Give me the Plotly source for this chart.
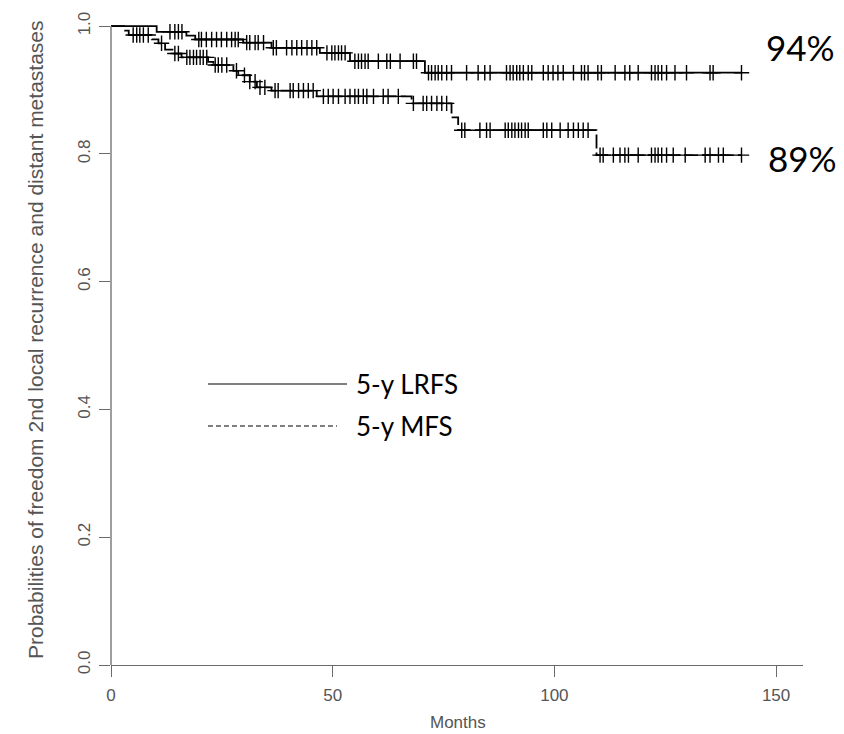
import numpy as np
import plotly.graph_objects as go

# Kaplan-Meier step estimates (months, survival probability)
lrfs_times = [0, 10.3, 17.0, 19.0, 29.8, 36.2, 47.1, 53.9, 70.8]
lrfs_surv = [1.0, 0.991, 0.985, 0.979, 0.974, 0.966, 0.958, 0.945, 0.927]

mfs_times = [0, 3.2, 4.0, 9.2, 10.7, 12.2, 14.1, 15.9, 21.9, 23.1, 27.6, 28.7,
             31.3, 32.9, 36.2, 46.4, 67.8, 76.8, 78.3, 109.5]
mfs_surv = [1.0, 0.993, 0.986, 0.979, 0.973, 0.963, 0.957, 0.951, 0.944, 0.939,
            0.930, 0.923, 0.913, 0.904, 0.899, 0.890, 0.879, 0.857, 0.837, 0.798]

follow_up_end = 142.2

# Censoring times
lrfs_censor = [13.3, 14.4, 15.2, 16.0, 19.8, 20.4, 21.5, 22.7, 23.8, 24.9, 26.1,
               27.2, 28.0, 28.7, 30.6, 31.3, 32.5, 33.2, 34.4, 36.6, 37.3, 39.6,
               40.8, 41.9, 43.0, 44.2, 45.3, 46.4, 48.7, 49.8, 50.5, 51.3, 52.0,
               52.8, 55.0, 55.8, 56.5, 57.3, 58.0, 60.3, 62.2, 63.0, 65.2, 68.2,
               68.9, 71.6, 72.3, 73.1, 73.8, 74.6, 75.7, 76.8, 80.2, 82.8, 84.3,
               85.5, 89.2, 90.0, 90.7, 91.5, 92.2, 93.0, 94.1, 94.9, 97.5, 98.6,
               99.7, 100.8, 102.0, 104.3, 106.1, 106.8, 107.6, 109.8, 110.6,
               113.7, 115.9, 117.0, 118.9, 121.9, 122.7, 123.4, 124.2, 125.3,
               127.2, 129.8, 135.1, 135.8, 142.2]
mfs_censor = [5.0, 5.8, 6.5, 7.3, 8.4, 11.4, 14.4, 15.2, 17.1, 17.8, 18.6, 19.3,
              20.1, 20.8, 21.6, 23.5, 24.2, 25.0, 26.1, 28.3, 30.1, 31.3, 32.5,
              33.6, 34.7, 37.0, 37.7, 40.4, 41.1, 42.3, 43.4, 44.5, 45.6, 47.9,
              49.0, 50.1, 51.3, 52.8, 53.9, 55.0, 55.8, 56.9, 57.7, 59.2, 61.4,
              62.5, 64.8, 68.2, 70.4, 71.2, 72.3, 73.5, 74.6, 75.7, 79.1, 79.8,
              83.2, 84.7, 85.5, 88.9, 89.6, 90.4, 91.1, 91.9, 92.6, 93.4, 94.1,
              97.5, 98.3, 99.4, 101.3, 103.1, 104.3, 105.4, 106.5, 107.6, 110.3,
              111.0, 113.3, 114.8, 115.9, 116.7, 118.9, 121.9, 122.7, 123.4,
              124.2, 125.3, 126.8, 129.5, 134.0, 135.1, 137.0, 138.1, 142.2]

x_ticks = [0, 50, 100, 150]
y_ticks = [0.0, 0.2, 0.4, 0.6, 0.8, 1.0]
y_tick_text = ["0.0", "0.2", "0.4", "0.6", "0.8", "1.0"]

legend_labels = ["5-y LRFS", "5-y MFS"]
rate_labels = ["94%", "89%"]

W, H = 844, 734
L, R, T, B = 111, 41, 12, 69
X_MAX = 156.07
Y_MAX = 1.022


def px(x):
    return (x - L) / (W - L - R)


def py(y):
    return (H - B - y) / (H - B - T)


def step_at(times, surv, t):
    idx = np.searchsorted(times, t, side="right") - 1
    return surv[idx]


def step_xy(times, surv):
    return list(times) + [follow_up_end], list(surv) + [surv[-1]]


fig = go.Figure()

for times, surv, censor, dash in [
    (lrfs_times, lrfs_surv, lrfs_censor, "solid"),
    (mfs_times, mfs_surv, mfs_censor, "14px,4px"),
]:
    sx, sy = step_xy(times, surv)
    fig.add_trace(go.Scatter(
        x=sx, y=sy, mode="lines", line=dict(shape="hv", color="black", width=1.8, dash=dash),
        showlegend=False, hoverinfo="skip",
    ))
    cy = [step_at(times, surv, t) for t in censor]
    fig.add_trace(go.Scatter(
        x=censor, y=cy, mode="markers",
        marker=dict(symbol="cross-thin", size=11, line=dict(color="black", width=1.4)),
        showlegend=False, hoverinfo="skip", cliponaxis=False,
    ))

axis_grey = "#6a6a6a"
text_grey = "#555555"
tick_font = dict(family="Liberation Sans, Arial", size=17, color=text_grey)

fig.update_xaxes(
    range=[0, X_MAX], tickvals=x_ticks, ticktext=[str(v) for v in x_ticks],
    showline=True, linecolor=axis_grey, linewidth=1.3, ticks="outside", ticklen=11,
    tickcolor=axis_grey, tickwidth=1.3, showgrid=False, zeroline=False,
    tickfont=tick_font, ticklabelstandoff=3,
)
fig.update_yaxes(
    range=[0, Y_MAX], tickvals=y_ticks, ticktext=y_tick_text, tickangle=-90,
    showline=False, ticks="outside", ticklen=11, tickcolor=axis_grey, tickwidth=1.3,
    showgrid=False, zeroline=False, tickfont=tick_font, ticklabelstandoff=2,
)

# y axis line spanning 0..1 only
fig.add_shape(type="line", xref="paper", yref="y", x0=0, x1=0, y0=0, y1=1,
              line=dict(color=axis_grey, width=1.3))

# Axis titles
fig.add_annotation(
    text="Probabilities of freedom 2nd local recurrence and distant metastases",
    xref="paper", yref="paper", x=px(35), y=py(340), textangle=-90,
    showarrow=False, font=dict(family="Liberation Sans, Arial", size=21, color=text_grey),
    xanchor="center", yanchor="middle",
)
fig.add_annotation(
    text="Months", xref="paper", yref="paper", x=px(458), y=py(722),
    showarrow=False, font=dict(family="Liberation Sans, Arial", size=17, color=text_grey),
    xanchor="center", yanchor="middle",
)

# Legend drawn as line samples with labels
label_font = dict(family="Lato, Carlito, sans-serif", size=26, color="black")
fig.add_shape(type="line", xref="paper", yref="paper", x0=px(208), x1=px(347),
              y0=py(384), y1=py(384), line=dict(color="black", width=1.2))
fig.add_shape(type="line", xref="paper", yref="paper", x0=px(208), x1=px(337),
              y0=py(426), y1=py(426), line=dict(color="black", width=1.2, dash="5px,3px"))
fig.add_annotation(text=legend_labels[0], xref="paper", yref="paper", x=px(354), y=py(384),
                   xanchor="left", yanchor="middle", showarrow=False, font=label_font)
fig.add_annotation(text=legend_labels[1], xref="paper", yref="paper", x=px(354), y=py(426),
                   xanchor="left", yanchor="middle", showarrow=False, font=label_font)

# Five-year rates beside the curves
rate_font = dict(family="Lato, Carlito, sans-serif", size=35, color="black")
fig.add_annotation(text=rate_labels[0], xref="paper", yref="paper", x=px(764), y=py(47),
                   xanchor="left", yanchor="middle", showarrow=False, font=rate_font)
fig.add_annotation(text=rate_labels[1], xref="paper", yref="paper", x=px(766), y=py(158),
                   xanchor="left", yanchor="middle", showarrow=False, font=rate_font)

fig.update_layout(
    width=W, height=H, margin=dict(l=L, r=R, t=T, b=B, pad=0),
    plot_bgcolor="white", paper_bgcolor="white",
)

fig.write_html("out.html")
